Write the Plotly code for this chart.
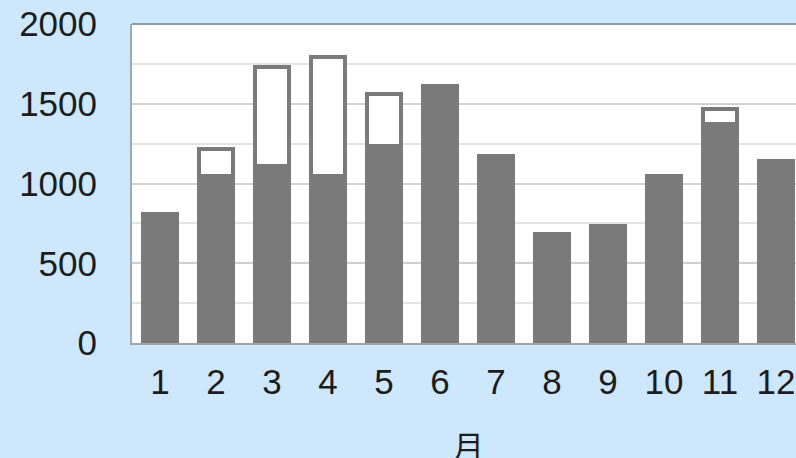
import plotly.graph_objects as go

# Monthly totals: base amount (grey) plus an additional amount stacked on top (outlined)
months = [1, 2, 3, 4, 5, 6, 7, 8, 9, 10, 11, 12]
month_labels = ["1", "2", "3", "4", "5", "6", "7", "8", "9", "10", "11", "12"]
base_values = [810, 1050, 1110, 1050, 1235, 1610, 1170, 685, 735, 1050, 1375, 1140]
extra_values = [None, 165, 620, 745, 325, None, None, None, None, None, 95, None]
y_ticks = [0, 500, 1000, 1500, 2000]

BAR_GREY = "#7a7a7a"
TEXT = "#1c1c1c"
FONT = "Liberation Sans, Arial, Helvetica, sans-serif"

fig = go.Figure()
fig.add_trace(go.Bar(
    x=months, y=base_values,
    marker=dict(color=BAR_GREY, line=dict(color=BAR_GREY, width=4)),
    hoverinfo="x+y",
))
fig.add_trace(go.Bar(
    x=months, y=extra_values,
    marker=dict(color="white", line=dict(color=BAR_GREY, width=4)),
    hoverinfo="x+y",
))

fig.update_layout(
    width=796, height=458,
    margin=dict(l=132, r=0, t=24, b=115),
    paper_bgcolor="#cde8fc",
    plot_bgcolor="white",
    barmode="stack",
    bargap=0.41,
    showlegend=False,
    font=dict(family=FONT, size=35, color=TEXT),
    xaxis=dict(
        range=[0.5, 12.357],
        tickmode="array", tickvals=months, ticktext=month_labels,
        showgrid=False, zeroline=False,
        showline=True, linecolor="#a3a3a3", linewidth=2,
        ticks="", ticklabelstandoff=7,
        tickfont=dict(family=FONT, size=35, color=TEXT),
    ),
    yaxis=dict(
        range=[0, 2000],
        tickmode="array", tickvals=y_ticks,
        showgrid=True, gridcolor="#cfcfcf", gridwidth=1.5,
        minor=dict(dtick=250, showgrid=True, gridcolor="#e3e3e3", gridwidth=1.5),
        zeroline=False,
        showline=True, linecolor="#a8a8a8", linewidth=2,
        ticks="", ticklabelstandoff=26,
        tickfont=dict(family=FONT, size=35, color=TEXT),
    ),
    shapes=[dict(
        type="line", xref="paper", yref="paper",
        x0=0, x1=1, y0=1, y1=1,
        line=dict(color="#8d9ba6", width=2),
        layer="above",
    )],
    annotations=[dict(
        text="月", xref="paper", yref="paper",
        x=(468 - 132) / 664, y=-(420 - 24 - 319) / 319,
        xanchor="center", yanchor="top", showarrow=False,
        font=dict(family="Noto Sans CJK JP, sans-serif", size=31, color=TEXT),
    )],
)

fig.write_html("out.html")
